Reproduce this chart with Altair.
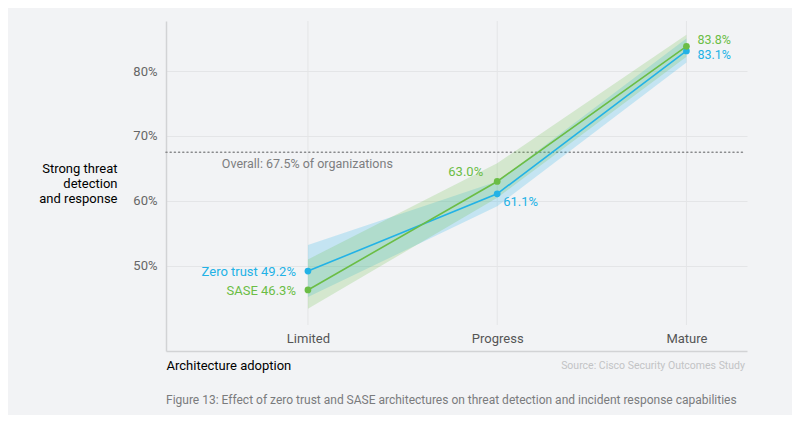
import altair as alt
import pandas as pd

stages = ["Limited", "Progress", "Mature"]
series = ["Zero trust", "SASE"]
zt_val = [49.2, 61.1, 83.1]
zt_lo = [45.2, 59.2, 81.3]
zt_hi = [53.2, 63.0, 85.0]
sase_val = [46.3, 63.0, 83.8]
sase_lo = [43.4, 60.5, 82.2]
sase_hi = [51.0, 65.8, 85.6]
overall = 67.5
y_ticks = [50, 60, 70, 80]

rows = []
for s, vals, lo, hi in [("Zero trust", zt_val, zt_lo, zt_hi), ("SASE", sase_val, sase_lo, sase_hi)]:
    for i, st in enumerate(stages):
        rows.append({"series": s, "stage": st, "xi": i, "value": vals[i], "lo": lo[i], "hi": hi[i]})
df = pd.DataFrame(rows)
df["pct"] = df["value"].map(lambda v: f"{v:.1f}%")
df["named"] = df["series"] + " " + df["pct"]

BLUE = "#22b2e6"
GREEN = "#6bbd45"
BG = "#f2f3f5"
FONT = "Roboto"
W, H = 581, 330
XDOM = [-0.75, 2.32]
YDOM = [36.9, 87.7]

xs = alt.Scale(domain=XDOM, nice=False, zero=False)
ys = alt.Scale(domain=YDOM, nice=False, zero=False)
col = alt.Color("series:N", scale=alt.Scale(domain=series, range=[BLUE, GREEN]), legend=None)

x_axis = alt.Axis(
    values=[0, 1, 2],
    labelExpr="['Limited','Progress','Mature'][datum.value]",
    grid=False, ticks=False, domainColor="#d2d3d5", domainWidth=1.5,
    labelPadding=-19, labelFontSize=13, labelColor="#555", labelFont=FONT,
    title="Architecture adoption", titleFont=FONT, titleFontSize=13, titleFontWeight="normal",
    titleColor="#000", titleAnchor="start", titleAlign="left", titleX=0, titleY=14,
    titleBaseline="middle",
)
y_axis = alt.Axis(
    values=y_ticks, labelExpr="datum.value + '%'",
    grid=True, gridColor="#e4e5e7", ticks=False, domainColor="#d2d3d5", domainWidth=1.5,
    labelPadding=9, labelFontSize=13, labelColor="#666", labelFont=FONT,
    title=["Strong threat", "detection", "and response"], titleAngle=0, titleAlign="right",
    titleX=-49, titleY=147, titleBaseline="middle", titleFont=FONT, titleFontSize=13,
    titleFontWeight="normal", titleColor="#000", titleLineHeight=15,
)

base = alt.Chart(df)

axes = base.mark_point(opacity=0).encode(
    x=alt.X("xi:Q", scale=xs, axis=x_axis),
    y=alt.Y("value:Q", scale=ys, axis=y_axis),
)

vgrid = alt.Chart(pd.DataFrame({"xi": [0, 1, 2], "top": [YDOM[1]] * 3, "bot": [40.9] * 3})).mark_rule(
    color="#e4e5e7", strokeWidth=1
).encode(x=alt.X("xi:Q", scale=xs), y=alt.Y("top:Q", scale=ys), y2="bot:Q")

ref = alt.Chart(pd.DataFrame({"y": [overall], "x1": [XDOM[0]], "x2": [XDOM[1] - 0.01]})).mark_rule(
    color="#8a8b8d", strokeDash=[1, 3.2], strokeWidth=1.6, strokeCap="round"
).encode(x=alt.X("x1:Q", scale=xs), x2="x2:Q", y=alt.Y("y:Q", scale=ys))

ref_txt = alt.Chart(pd.DataFrame({"y": [overall], "x": [-0.455],
                                  "t": [f"Overall: {overall}% of organizations"]})).mark_text(
    align="left", baseline="middle", dy=12, font=FONT, fontSize=12.5, color="#7d7e80"
).encode(x=alt.X("x:Q", scale=xs), y=alt.Y("y:Q", scale=ys), text="t:N")

band = base.mark_area(opacity=0.22).encode(
    x=alt.X("xi:Q", scale=xs), y=alt.Y("lo:Q", scale=ys), y2="hi:Q", color=col,
    detail="series:N",
)
line = base.mark_line(strokeWidth=1.6).encode(
    x=alt.X("xi:Q", scale=xs), y=alt.Y("value:Q", scale=ys), color=col, detail="series:N",
)
pts = base.mark_circle(size=45, opacity=1).encode(
    x=alt.X("xi:Q", scale=xs), y=alt.Y("value:Q", scale=ys), color=col,
)

def lab(filt, text_field, size=13, **kw):
    return base.transform_filter(filt).mark_text(font=FONT, fontSize=size, baseline="middle", **kw).encode(
        x=alt.X("xi:Q", scale=xs), y=alt.Y("value:Q", scale=ys), text=f"{text_field}:N", color=col,
    )

lab_lim = lab("datum.xi == 0", "named", align="right", dx=-12, dy=1)
lab_p_s = lab("datum.xi == 1 && datum.series == 'SASE'", "pct", align="right", dx=-14, dy=-9)
lab_p_z = lab("datum.xi == 1 && datum.series == 'Zero trust'", "pct", align="left", dx=6, dy=8)
lab_m_s = lab("datum.xi == 2 && datum.series == 'SASE'", "pct", size=12.5, align="left", dx=11, dy=-6)
lab_m_z = lab("datum.xi == 2 && datum.series == 'Zero trust'", "pct", size=12.5, align="left", dx=11, dy=4)

source = alt.Chart(pd.DataFrame({"t": ["Source: Cisco Security Outcomes Study"]})).mark_text(
    align="right", baseline="middle", font=FONT, fontSize=10.5, color="#c2c3c5"
).encode(x=alt.value(W - 2), y=alt.value(H + 15), text="t:N")

caption = alt.Chart(pd.DataFrame({"t": ["Figure 13: Effect of zero trust and SASE architectures on threat detection and incident response capabilities"]})).mark_text(
    align="left", baseline="middle", font=FONT, fontSize=12, color="#7a7b7d"
).encode(x=alt.value(0), y=alt.value(H + 49), text="t:N")

chart = alt.layer(
    axes, vgrid, ref, band, line, pts, ref_txt,
    lab_lim, lab_p_s, lab_p_z, lab_m_s, lab_m_z, source, caption,
).properties(
    width=W, height=H, background=BG,
    autosize=alt.AutoSizeParams(type="none"),
    padding={"left": 158, "top": 13, "right": 45, "bottom": 64},
).configure_view(stroke=None)

chart.save("out.html", embed_options={"renderer": "svg", "actions": False})
